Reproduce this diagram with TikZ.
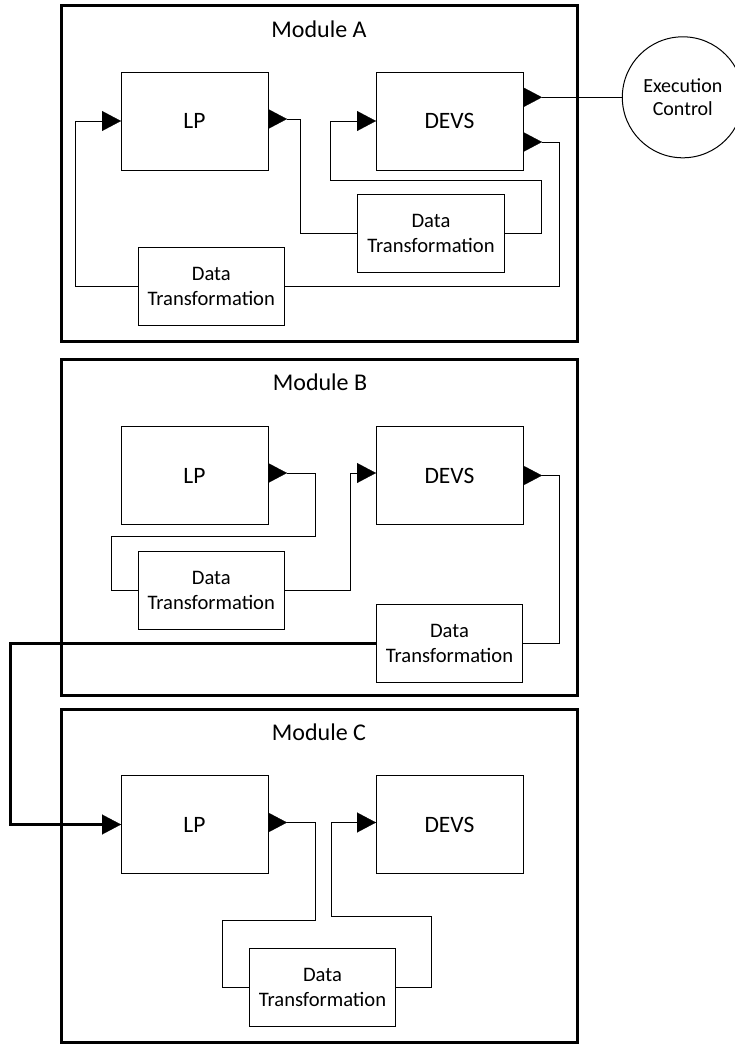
\documentclass[tikz,border=0pt]{standalone}
\usepackage{fontspec}
\setmainfont{Carlito}
\usetikzlibrary{arrows.meta}

\tikzset{
  module/.style={draw, line width=3pt, minimum width=516pt, inner sep=0pt, outer sep=0pt},
  title/.style={inner sep=0pt, font=\fontsize{24}{29}\selectfont},
  unit/.style={draw, line width=1pt, minimum width=147pt, minimum height=98pt,
    inner sep=0pt, outer sep=0pt, font=\fontsize{23.5}{28}\selectfont},
  xform/.style={draw, line width=1pt, minimum width=146.5pt, minimum height=78pt,
    inner sep=0pt, outer sep=0pt, align=center, font=\fontsize{20.6}{25}\selectfont},
  ctrlnode/.style={draw, circle, line width=1pt, minimum size=121pt, inner sep=0pt,
    outer sep=0pt, align=center, font=\fontsize{20}{23}\selectfont},
  link/.style={line width=1pt},
  bus/.style={line width=3pt},
  outport/.style={{Triangle[reversed, length=19pt, width=20pt, line width=0.2pt]}-},
  inport/.style={-{Triangle[length=19pt, width=20pt, line width=0.2pt]}}
}

\begin{document}
\begin{tikzpicture}[x=1pt, y=-1pt]
\useasboundingbox (0,0) rectangle (735,1044);
\clip (0,0) rectangle (735,1044);

% module frames
\node[module, minimum height=335.5pt] (modA) at (319,173.25) {};
\node[module, minimum height=335.5pt] (modB) at (319,527.25) {};
\node[module, minimum height=333.4pt] (modC) at (319,876) {};

\node[title] (titleA) at (319,29) {Module A};
\node[title] (titleB) at (320,382.5) {Module B};
\node[title] (titleC) at (319,732) {Module C};

% Module A
\node[unit] (lpA) at (194.5,121) {LP};
\node[unit] (devsA) at (449.5,121) {DEVS};
\node[xform] (dtA1) at (431,233.5) {Data\\Transformation};
\node[xform] (dtA2) at (211.3,286) {Data\\Transformation};
\node[ctrlnode] (ctrl) at (682.8,97.3) {Execution\\Control};

\draw[link, outport] ([yshift=2pt]lpA.east) -| (300.5,233.5) -- (dtA1.west);
\draw[link, inport] (dtA1.east) -- (541.5,233.5) |- (330.5,180) |- (devsA.west);
\draw[link, outport] (devsA.east |- ctrl.west) -- (ctrl.west);
\draw[link, outport] ([yshift=-21pt]devsA.east) -| (559,286) -- (dtA2.east);
\draw[link, inport] (dtA2.west) -- (75,286) |- (lpA.west);

% Module B
\node[unit] (lpB) at (194.5,475.5) {LP};
\node[unit] (devsB) at (449.5,475.5) {DEVS};
\node[xform] (dtB1) at (211.3,590) {Data\\Transformation};
\node[xform] (dtB2) at (449.5,643) {Data\\Transformation};

\draw[link, outport] ([yshift=2.5pt]lpB.east) -| (315,536) -| (111,590) -- (dtB1.west);
\draw[link, inport] (dtB1.east) -| (350,473) -- ([yshift=2.5pt]devsB.west);
\draw[link, outport] (devsB.east) -| (559,643) -- (dtB2.east);

% Module C
\node[unit] (lpC) at (194.5,824.5) {LP};
\node[unit] (devsC) at (449.5,824.5) {DEVS};
\node[xform] (dtC) at (322.5,987) {Data\\Transformation};

\draw[link, outport] ([yshift=2pt]lpC.east) -| (315,920) -| (222,987) -- (dtC.west);
\draw[link, inport] (dtC.east) -| (431,916) -| (331,822.5) -- ([yshift=2pt]devsC.west);

% link from module B into module C
\draw[bus, inport] (dtB2.west) -- (10,643) |- (lpC.west);
\end{tikzpicture}
\end{document}
